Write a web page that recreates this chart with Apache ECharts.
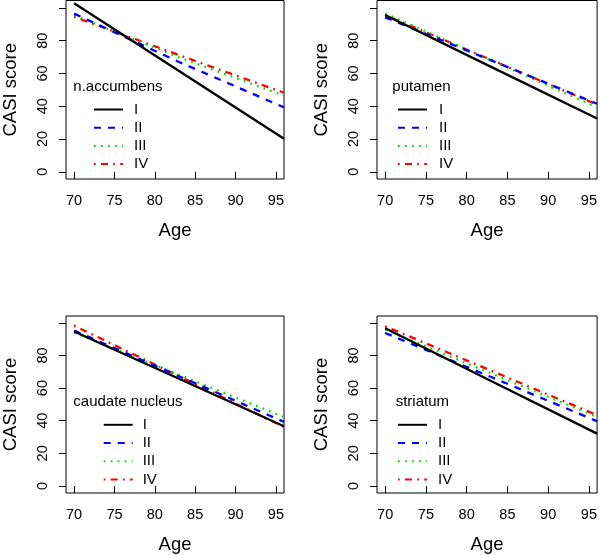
<!DOCTYPE html>
<html>
<head>
<meta charset="utf-8">
<script src="https://cdn.jsdelivr.net/npm/echarts@6/dist/echarts.min.js"></script>
<style>
html,body{margin:0;padding:0;background:#fff;}
#c{width:600px;height:555px;}
</style>
</head>
<body>
<div id="c"></div>
<script>
// ---- data ----
var ages = [70, 83, 96];
var groups = ['I', 'II', 'III', 'IV'];
var panelTitles = ['n.accumbens', 'putamen', 'caudate nucleus', 'striatum'];
var xTicks = [70, 75, 80, 85, 90, 95];
var yTicks = [0, 20, 40, 60, 80, 100];
var yLabels = [0, 20, 40, 60, 80];

var accumbensI   = [102.8, 61.5, 20.2];
var accumbensII  = [96.5, 67.0, 39.3];
var accumbensIII = [95.5, 69.8, 46.5];
var accumbensIV  = [94.5, 71.2, 48.2];

var putamenI   = [95.6, 64.0, 32.5];
var putamenII  = [94.2, 68.0, 41.5];
var putamenIII = [96.6, 68.0, 39.3];
var putamenIV  = [95.6, 68.3, 41.0];

var caudateI   = [94.7, 65.7, 36.6];
var caudateII  = [95.3, 67.3, 39.3];
var caudateIII = [94.0, 68.2, 42.3];
var caudateIV  = [98.3, 67.3, 36.2];

var striatumI   = [96.7, 64.4, 32.1];
var striatumII  = [93.8, 66.8, 39.7];
var striatumIII = [95.9, 69.1, 42.3];
var striatumIV  = [97.9, 70.7, 43.4];

var panelData = [
  [accumbensI, accumbensII, accumbensIII, accumbensIV],
  [putamenI, putamenII, putamenIII, putamenIV],
  [caudateI, caudateII, caudateIII, caudateIV],
  [striatumI, striatumII, striatumIII, striatumIV]
];

// ---- styles ----
var FONT = 'Liberation Sans, Arial, Helvetica, sans-serif';
var colors = ['#000000', '#0000ff', '#00e000', '#ff0000'];
var dashes = ['solid', [7, 7], [1.75, 5.25], [1.75, 5.25, 7, 5.25]];

var grids = [
  {left: 62, top: 0.5, width: 222, height: 178.5},
  {left: 377, top: 0.5, width: 222, height: 178.5},
  {left: 62, top: 316, width: 222, height: 177.3},
  {left: 377, top: 316, width: 222, height: 177.3}
];
var yRanges = [[-4.4, 104.5], [-4.4, 104.5], [-4.3, 104.2], [-4.3, 104.2]];
var legendPos = [
  {left: 93, top: 102, pad: 6},
  {left: 397, top: 102, pad: 7},
  {left: 102.7, top: 417.3, pad: 5},
  {left: 397, top: 417.3, pad: 6}
];
var headPos = [[73.3, 87.3], [392.3, 87.3], [73.3, 402], [395.7, 402]];

var option = {
  animation: false,
  backgroundColor: '#fff',
  grid: [], xAxis: [], yAxis: [], series: [], legend: [], graphic: []
};

for (var p = 0; p < 4; p++) {
  var g = grids[p];
  option.grid.push({left: g.left, top: g.top, width: g.width, height: g.height,
    show: true, borderColor: '#000', borderWidth: 1, backgroundColor: 'transparent'});
  option.xAxis.push({
    type: 'value', gridIndex: p, min: 69, max: 96,
    name: 'Age', nameLocation: 'middle', nameGap: 42,
    nameTextStyle: {fontFamily: FONT, fontSize: 18.5, color: '#000'},
    axisLine: {show: false},
    axisTick: {show: true, length: 7, inside: false, customValues: xTicks, lineStyle: {color: '#000', width: 1}},
    axisLabel: {customValues: xTicks, fontFamily: FONT, fontSize: 14.5, color: '#000', margin: 14},
    splitLine: {show: false}
  });
  option.yAxis.push({
    type: 'value', gridIndex: p, min: yRanges[p][0], max: yRanges[p][1],
    name: 'CASI score', nameLocation: 'middle', nameGap: 46,
    nameTextStyle: {fontFamily: FONT, fontSize: 18.5, color: '#000'},
    axisLine: {show: false},
    axisTick: {show: true, length: 7, inside: false, customValues: yTicks, lineStyle: {color: '#000', width: 1}},
    axisLabel: {customValues: yLabels, rotate: 90, fontFamily: FONT, fontSize: 14.5, color: '#000', margin: 16},
    splitLine: {show: false}
  });
  for (var s = 0; s < 4; s++) {
    var vals = panelData[p][s];
    var pts = [];
    for (var i = 0; i < ages.length; i++) pts.push([ages[i], vals[i]]);
    option.series.push({
      type: 'line', name: groups[s], xAxisIndex: p, yAxisIndex: p,
      data: pts, symbol: 'none', showSymbol: false, clip: true, silent: true,
      lineStyle: {color: colors[s], width: 2.3, type: dashes[s]},
      itemStyle: {color: colors[s]},
      z: 10 - s
    });
  }
  var lp = legendPos[p];
  option.legend.push({
    data: groups, orient: 'vertical', left: lp.left, top: lp.top, padding: 0,
    itemWidth: 29, itemHeight: 14, itemGap: 3.2,
    itemStyle: {opacity: 0},
    textStyle: {fontFamily: FONT, fontSize: 15, color: '#000', padding: [0, 0, 0, lp.pad]},
    selectedMode: false
  });
  option.graphic.push({
    type: 'text', x: headPos[p][0], y: headPos[p][1],
    style: {text: panelTitles[p], font: '15px ' + FONT, fill: '#000',
      textVerticalAlign: 'middle', verticalAlign: 'middle'}
  });
}

var chart = echarts.init(document.getElementById('c'), null, {renderer: 'canvas'});
chart.setOption(option);
</script>
</body>
</html>
